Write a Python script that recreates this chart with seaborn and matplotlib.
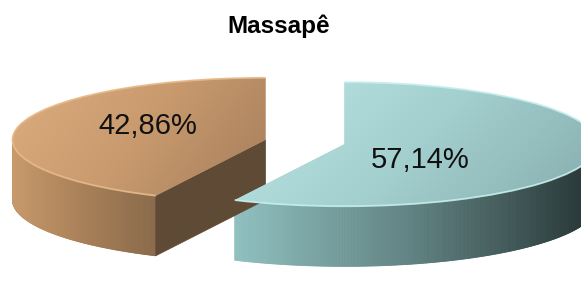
import numpy as np
import matplotlib
matplotlib.use("Agg")
import matplotlib.pyplot as plt
import seaborn as sns
from matplotlib.colors import LinearSegmentedColormap
from matplotlib.patches import Polygon, Arc
from matplotlib.collections import PolyCollection

# ---- data ----
categories = ["Categoria A", "Categoria B"]
values = [42.86, 57.14]
title = "Massapê"
explode = [0.16, 0.16]

sns.set_theme(style="white")
plt.rcParams['font.family'] = ['Liberation Sans', 'DejaVu Sans']

fig = plt.figure(figsize=(5.81, 2.81), dpi=100)
ax = fig.add_axes([0, 0, 1, 1])

base_colors = ["#c8986a", "#a4d0d0"]
side_cmaps = [
    LinearSegmentedColormap.from_list("bs", ["#c8996b", "#a88058", "#8a6a4a"]),
    LinearSegmentedColormap.from_list("ts", ["#90c0c0", "#5f8080", "#263434"]),
]
top_cmaps = [
    LinearSegmentedColormap.from_list("bt", ["#dcad7e", "#c99a6e", "#a57f5c"]),
    LinearSegmentedColormap.from_list("tt", ["#bce6e6", "#a4cfcf", "#85acac"]),
]
rim_colors = ["#e6bb8c", "#c6eeee"]
cut_color = "#5f4a36"

depth = 0.97


def fmt(p):
    return f"{p:.2f}".replace(".", ",") + "%"


def wedge_bbox(w):
    v = w.get_path().vertices
    return v[:, 0].min(), v[:, 0].max(), v[:, 1].min(), v[:, 1].max()


# top face (pie drawn by matplotlib)
top_wedges, top_texts, auto_texts = ax.pie(
    values, explode=explode, startangle=90, colors=base_colors,
    autopct=fmt, pctdistance=0.55, wedgeprops=dict(linewidth=0),
    textprops=dict(fontsize=21, color="#111111"))

# side bands derived from each wedge's geometry
for i, w in enumerate(top_wedges):
    cx, cy = w.center
    r = w.r
    ang = np.linspace(w.theta1, w.theta2, 600)
    ang = ang[np.sin(np.deg2rad(ang)) <= 0.0]
    if len(ang) < 2:
        continue
    a = np.deg2rad(ang)
    px = cx + r * np.cos(a)
    py = cy + r * np.sin(a)
    xmin, xmax = px.min(), px.max()
    quads, cols = [], []
    for k in range(len(a) - 1):
        quads.append([(px[k], py[k]), (px[k + 1], py[k + 1]),
                      (px[k + 1], py[k + 1] - depth), (px[k], py[k] - depth)])
        t = (0.5 * (px[k] + px[k + 1]) - xmin) / (xmax - xmin)
        cols.append(side_cmaps[i](t))
    pc = PolyCollection(quads, facecolors=cols, edgecolors=cols,
                        linewidths=0.6, zorder=1)
    ax.add_collection(pc)

# brown cut face
w0 = top_wedges[0]
cx, cy = w0.center
r = w0.r
t2 = np.deg2rad(w0.theta2)
ex, ey = cx + r * np.cos(t2), cy + r * np.sin(t2)
cut = Polygon([(cx, cy), (ex, ey), (ex, ey - depth), (cx, cy - depth)],
              closed=True, facecolor=cut_color, edgecolor=cut_color,
              linewidth=0.5, zorder=2)
ax.add_patch(cut)

# gradient on top faces + light rim along the front arc
for i, w in enumerate(top_wedges):
    w.set_zorder(3)
    x0, x1, y0, y1 = wedge_bbox(w)
    X, Y = np.meshgrid(np.linspace(0, 1, 200), np.linspace(0, 1, 200))
    g = 0.75 * X + 0.25 * Y
    im = ax.imshow(g, cmap=top_cmaps[i], extent=(x0, x1, y0, y1), origin="upper",
                   aspect="auto", interpolation="bilinear", zorder=3.1)
    im.set_clip_path(w)
    rim = Arc(w.center, 2 * w.r, 2 * w.r, theta1=w.theta1, theta2=w.theta2,
              edgecolor=rim_colors[i], linewidth=1.3, zorder=3.2, alpha=0.9)
    ax.add_patch(rim)

for t in top_texts:
    t.set_visible(False)
label_pos = [(-0.62, 0.26), (0.455, -0.29)]
for t, pos in zip(auto_texts, label_pos):
    t.set_position(pos)
    t.set_zorder(5)
    t.set_ha("center")
    t.set_va("center")

fig.text(279 / 581, 1 - 33 / 281, title, ha="center", va="baseline",
         fontsize=17.5, fontweight="bold", color="black")

ax.set_aspect("auto")
ax.set_xlim(-305 / 253, (581 - 305) / 253)
ax.set_ylim((142 - 281) / 62, 142 / 62)
ax.axis("off")

fig.savefig("out.png", dpi=100)
